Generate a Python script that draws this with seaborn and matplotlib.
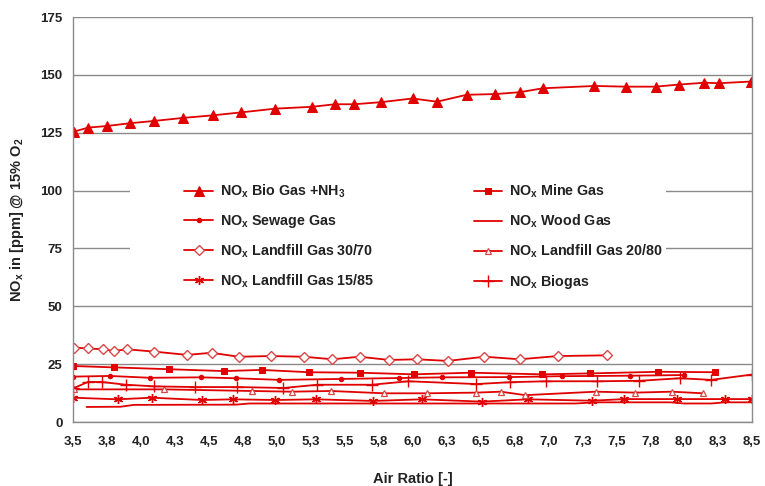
import numpy as np
import pandas as pd
import matplotlib
matplotlib.use("Agg")
import matplotlib.pyplot as plt
from matplotlib.patches import Rectangle
import seaborn as sns

# ---------------- data ----------------
x_bio_nh3 = [3.51, 3.61, 3.75, 3.92, 4.10, 4.31, 4.53, 4.74, 4.99, 5.26, 5.43, 5.57, 5.77, 6.00,
             6.18, 6.40, 6.61, 6.79, 6.96, 7.34, 7.57, 7.79, 7.96, 8.15, 8.26, 8.49]
y_bio_nh3 = [125.5, 127.2, 127.9, 129.1, 130.1, 131.4, 132.5, 133.8, 135.4, 136.2, 137.3, 137.3, 138.2, 139.8,
             138.4, 141.4, 141.7, 142.5, 144.2, 145.2, 144.9, 144.9, 145.8, 146.6, 146.4, 147.1]

x_lf3070 = [3.51, 3.61, 3.72, 3.80, 3.90, 4.10, 4.34, 4.52, 4.72, 4.96, 5.20, 5.41, 5.61, 5.83,
            6.03, 6.26, 6.53, 6.79, 7.07, 7.43]
y_lf3070 = [32.1, 31.8, 31.4, 30.7, 31.4, 30.4, 29.0, 29.9, 28.2, 28.5, 28.2, 27.1, 28.2, 26.8,
            27.1, 26.4, 28.2, 27.1, 28.5, 28.8]

x_mine = [3.50, 3.80, 4.21, 4.61, 4.89, 5.24, 5.61, 6.01, 6.43, 6.95, 7.31, 7.81, 8.23]
y_mine = [24.2, 23.6, 22.8, 22.0, 22.5, 21.5, 21.3, 20.6, 21.3, 20.6, 21.0, 21.7, 21.5]

x_sewage = [3.50, 3.77, 4.07, 4.44, 4.70, 5.02, 5.47, 5.90, 6.22, 6.71, 7.10, 7.60, 8.00]
y_sewage = [19.6, 19.9, 19.1, 19.3, 18.9, 18.2, 18.6, 19.0, 19.3, 19.4, 19.8, 20.0, 20.3]

x_wood = [3.60, 3.85, 3.95, 4.70, 4.80, 5.50, 6.50, 7.20, 7.35, 7.90, 8.00, 8.20, 8.30, 8.50]
y_wood = [6.5, 6.6, 7.4, 7.5, 8.0, 8.0, 8.0, 8.0, 8.5, 8.5, 8.0, 8.0, 8.5, 8.5]

x_lf2080 = [3.51, 4.17, 4.82, 5.11, 5.40, 5.79, 6.11, 6.47, 6.65, 6.83, 7.35, 7.64, 7.91, 8.14]
y_lf2080 = [14.1, 14.1, 13.4, 13.1, 13.4, 12.4, 12.4, 12.7, 13.1, 11.6, 13.1, 12.7, 13.1, 12.4]

x_lf1585 = [3.50, 3.83, 4.08, 4.45, 4.68, 4.99, 5.29, 5.71, 6.07, 6.51, 6.85, 7.32, 7.56, 7.95, 8.30, 8.50]
y_lf1585 = [10.5, 9.8, 10.5, 9.5, 9.8, 9.5, 9.8, 9.1, 9.8, 8.8, 9.8, 9.2, 9.9, 9.9, 9.9, 9.9]

x_biogas = [3.50, 3.61, 3.71, 3.89, 4.10, 4.40, 4.71, 5.05, 5.30, 5.70, 5.97, 6.47, 6.72, 6.98, 7.36, 7.67, 7.97, 8.20, 8.50]
y_biogas = [14.5, 17.3, 17.3, 16.1, 15.4, 15.1, 15.1, 14.7, 16.1, 16.1, 17.6, 16.4, 17.2, 17.6, 17.6, 17.8, 18.9, 18.2, 20.5]

y_ticks = [0, 25, 50, 75, 100, 125, 150, 175]
x_ticklabels = ['3,5', '3,8', '4,0', '4,3', '4,5', '4,8', '5,0', '5,3', '5,5', '5,8', '6,0',
                '6,3', '6,5', '6,8', '7,0', '7,3', '7,5', '7,8', '8,0', '8,3', '8,5']

labels = {
    "bio_nh3": r"NO$_\mathbf{x}$ Bio Gas +NH$_\mathbf{3}$",
    "sewage": r"NO$_\mathbf{x}$ Sewage Gas",
    "lf3070": r"NO$_\mathbf{x}$ Landfill Gas 30/70",
    "lf1585": r"NO$_\mathbf{x}$ Landfill Gas 15/85",
    "mine": r"NO$_\mathbf{x}$ Mine Gas",
    "wood": r"NO$_\mathbf{x}$ Wood Gas",
    "lf2080": r"NO$_\mathbf{x}$ Landfill Gas 20/80",
    "biogas": r"NO$_\mathbf{x}$ Biogas",
}

series = {
    "bio_nh3": (x_bio_nh3, y_bio_nh3),
    "sewage": (x_sewage, y_sewage),
    "lf3070": (x_lf3070, y_lf3070),
    "lf1585": (x_lf1585, y_lf1585),
    "mine": (x_mine, y_mine),
    "wood": (x_wood, y_wood),
    "lf2080": (x_lf2080, y_lf2080),
    "biogas": (x_biogas, y_biogas),
}

RED = "#e00000"
LRED = "#d84848"
styles = {
    "bio_nh3": dict(marker="^", markersize=7, markerfacecolor=RED, markeredgecolor=RED),
    "sewage": dict(marker="o", markersize=3.2, markerfacecolor=RED, markeredgecolor=RED),
    "lf3070": dict(marker="D", markersize=5, markerfacecolor="white", markeredgecolor=LRED, markeredgewidth=1.0),
    "lf1585": dict(marker=(6, 2, 0), markersize=6.5, markeredgecolor=RED, markeredgewidth=1.0),
    "mine": dict(marker="s", markersize=4.5, markerfacecolor=RED, markeredgecolor=RED),
    "wood": dict(marker=None),
    "lf2080": dict(marker="^", markersize=4.5, markerfacecolor="white", markeredgecolor=LRED, markeredgewidth=0.9),
    "biogas": dict(marker="+", markersize=8, markeredgecolor=RED, markeredgewidth=1.0),
}

sns.set_theme(style="white")
plt.rcParams['font.family'] = ['Liberation Sans', 'DejaVu Sans']
plt.rcParams['mathtext.fontset'] = 'custom'
plt.rcParams['mathtext.rm'] = 'Liberation Sans:bold'
plt.rcParams['mathtext.bf'] = 'Liberation Sans:bold'
plt.rcParams['mathtext.it'] = 'Liberation Sans:bold'

fig = plt.figure(figsize=(7.65, 4.86), dpi=100)
ax = fig.add_axes([73 / 765, 1 - 422 / 486, (752 - 73) / 765, (422 - 17) / 486])

for key, (xs, ys) in series.items():
    df = pd.DataFrame({"x": xs, "y": ys})
    st = styles[key]
    sns.lineplot(data=df, x="x", y="y", ax=ax, color=RED, linewidth=1.3,
                 label=labels[key], sort=False, estimator=None, **st)

ax.set_xlim(3.5, 8.5)
ax.set_ylim(0, 175)
ax.set_yticks(y_ticks)
ax.set_xticks(np.linspace(3.5, 8.5, len(x_ticklabels)))
ax.set_xticklabels(x_ticklabels)
ax.yaxis.grid(True, color="#8a8a8a", linewidth=1.0)
ax.set_axisbelow(True)
for s in ["left", "bottom", "right"]:
    ax.spines[s].set_color("#8a8a8a")
    ax.spines[s].set_linewidth(1.0)
ax.spines["top"].set_visible(False)
ax.tick_params(axis="both", direction="out", length=4, width=1.0, color="#8a8a8a",
               labelsize=9.5, labelcolor="#222222")
ax.tick_params(axis="x", pad=6)
for lab in ax.get_xticklabels() + ax.get_yticklabels():
    lab.set_fontweight("bold")

ax.set_xlabel("Air Ratio [-]", fontsize=10.5, fontweight="bold", color="#222222", labelpad=17)
ax.set_ylabel(r"NO$_\mathbf{x}$ in [ppm] @ 15% O$_\mathbf{2}$", fontsize=10.5, fontweight="bold",
              color="#222222", labelpad=10)

# white legend area (Excel legend box without border)
ax.add_patch(Rectangle((0.084, 0.30), 0.79, 0.31, transform=ax.transAxes,
                       facecolor="white", edgecolor="none", zorder=1.5))

leg = ax.legend(ncol=2, loc="upper left", bbox_to_anchor=(0.141, 0.63), frameon=False,
                fontsize=10.3, labelspacing=0.88, handlelength=2.0, handletextpad=0.45,
                columnspacing=7.0, borderpad=0.6)
for t in leg.get_texts():
    t.set_fontweight("bold")
    t.set_color("#222222")

fig.savefig("out.png", dpi=100)
